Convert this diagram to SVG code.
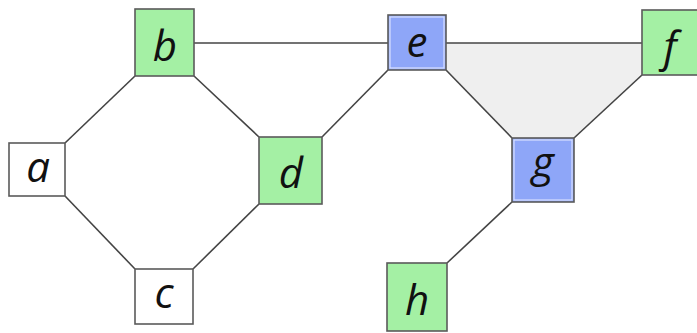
<svg xmlns="http://www.w3.org/2000/svg" width="697" height="333" viewBox="0 0 697 333">
<style>
.n{stroke:#5a5a5a;stroke-width:1.6}
.w{fill:#ffffff}
.g{fill:#a4f0a4}
.b{fill:#8ea6f8}
.in{fill:none;stroke:#d8e0ff;stroke-width:1.2}
.t{font-family:"Open Sans","DejaVu Sans",sans-serif;font-style:italic;font-size:42px;fill:#111;text-anchor:middle}
.e{stroke:#444;stroke-width:1.6;fill:none}
</style>
<rect width="697" height="333" fill="#ffffff"/>
<polygon points="446,43 642,43 642,75 574,138 512,138 446,70" fill="#efefef"/>
<g id="connectors">
<line class="e" x1="194" y1="43" x2="388" y2="43"/>
<line class="e" x1="446" y1="43" x2="642" y2="43"/>
<line class="e" x1="65" y1="143" x2="135" y2="76"/>
<line class="e" x1="194" y1="76" x2="259" y2="137"/>
<line class="e" x1="65" y1="196" x2="135" y2="269"/>
<line class="e" x1="193" y1="269" x2="259" y2="204"/>
<line class="e" x1="322" y1="137" x2="388" y2="70"/>
<line class="e" x1="446" y1="70" x2="512" y2="138"/>
<line class="e" x1="642" y1="75" x2="574" y2="138"/>
<line class="e" x1="512" y1="202" x2="447" y2="263"/>
</g>
<g id="a"><rect class="n w" x="9" y="143" width="56" height="53"/><text class="t" x="38" y="182">a</text></g>
<g id="b"><rect class="n g" x="135" y="9" width="59" height="67"/><text class="t" x="165" y="61">b</text></g>
<g id="c"><rect class="n w" x="135" y="269" width="58" height="55"/><text class="t" x="164" y="308">c</text></g>
<g id="d"><rect class="n g" x="259" y="137" width="63" height="67"/><text class="t" x="291" y="188">d</text></g>
<g id="e"><rect class="n b" x="388" y="15" width="58" height="55"/><rect class="in" x="390" y="17" width="54" height="51"/><text class="t" x="417" y="57">e</text></g>
<g id="f"><rect class="n g" x="642" y="10" width="56" height="65"/><text class="t" x="670" y="62">f</text></g>
<g id="g"><rect class="n b" x="512" y="138" width="62" height="64"/><rect class="in" x="514" y="140" width="58" height="60"/><text class="t" x="543" y="177">g</text></g>
<g id="h"><rect class="n g" x="387" y="263" width="60" height="68"/><text class="t" x="417" y="315">h</text></g>
</svg>
